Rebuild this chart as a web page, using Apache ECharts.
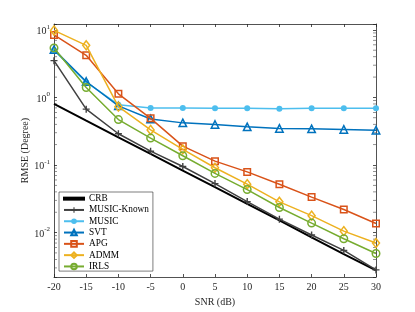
<!DOCTYPE html>
<html><head><meta charset="utf-8">
<script src="https://cdn.jsdelivr.net/npm/echarts@6/dist/echarts.min.js"></script>
<style>html,body{margin:0;padding:0;background:#fff}#c{width:415px;height:312px}</style>
</head><body><div id="c"></div>
<script>
var snr = [-20, -15, -10, -5, 0, 5, 10, 15, 20, 25, 30];
var crb = [0.80, 0.453, 0.257, 0.146, 0.0826, 0.0469, 0.0266, 0.0151, 0.0085, 0.0048, 0.00275];
var musicKnown = [3.5, 0.67, 0.29, 0.16, 0.095, 0.053, 0.0287, 0.0158, 0.0092, 0.00544, 0.0028];
var music = [5.0, 1.68, 0.78, 0.70, 0.70, 0.69, 0.69, 0.68, 0.69, 0.69, 0.69];
var svt = [5.1, 1.72, 0.75, 0.48, 0.42, 0.397, 0.367, 0.348, 0.343, 0.336, 0.328];
var apg = [8.4, 4.2, 1.13, 0.49, 0.19, 0.114, 0.079, 0.052, 0.0335, 0.0219, 0.0136];
var admm = [9.8, 5.9, 0.73, 0.33, 0.17, 0.091, 0.052, 0.0285, 0.0178, 0.0105, 0.0070];
var irls = [5.4, 1.40, 0.47, 0.25, 0.137, 0.075, 0.0433, 0.0235, 0.0138, 0.0081, 0.0049];
var names = ['CRB', 'MUSIC-Known', 'MUSIC', 'SVT', 'APG', 'ADMM', 'IRLS'];
var xTicks = [-20, -15, -10, -5, 0, 5, 10, 15, 20, 25, 30];
var yMin = 0.0022, yMax = 12.2;
var minorTickValues = [0.003, 0.004, 0.005, 0.006, 0.007, 0.008, 0.009,
  0.02, 0.03, 0.04, 0.05, 0.06, 0.07, 0.08, 0.09,
  0.2, 0.3, 0.4, 0.5, 0.6, 0.7, 0.8, 0.9,
  2, 3, 4, 5, 6, 7, 8, 9];

function pairs(arr) { return snr.map(function (x, i) { return [x, arr[i]]; }); }

var FONT = 'Liberation Serif';
var AX = '#262626';
var plus = 'path://M4,0H6V4H10V6H6V10H4V6H0V4H4Z';

function lineSeries(name, data, color, opt) {
  var s = {
    name: name, type: 'line', data: pairs(data), color: color,
    lineStyle: { color: color, width: 1.5 },
    symbol: opt.symbol || 'none', symbolSize: opt.size || 7,
    showSymbol: !!opt.symbol,
    itemStyle: { color: opt.filled ? color : 'rgba(255,255,255,0)', borderColor: color, borderWidth: opt.filled ? 0 : 1.5 },
    emphasis: { disabled: true }, animation: false, z: opt.z || 2
  };
  if (opt.width) s.lineStyle.width = opt.width;
  return s;
}

var series = [
  lineSeries('CRB', crb, '#000000', { width: 2, z: 2 }),
  lineSeries('MUSIC-Known', musicKnown, '#404040', { symbol: plus, size: 7, filled: true, z: 3 }),
  lineSeries('MUSIC', music, '#4DBEEE', { symbol: 'circle', size: 6, filled: true, z: 4 }),
  lineSeries('SVT', svt, '#0072BD', { symbol: 'triangle', size: 7.5, z: 5 }),
  lineSeries('APG', apg, '#D95319', { symbol: 'rect', size: 6.5, z: 6 }),
  lineSeries('ADMM', admm, '#EDB120', { symbol: 'diamond', size: [7, 9], z: 7 }),
  lineSeries('IRLS', irls, '#77AC30', { symbol: 'circle', size: 7.5, z: 8 })
];
series.push({
  name: 'minorL', type: 'scatter', silent: true, animation: false, clip: false,
  data: minorTickValues.map(function (v) { return [xTicks[0], v]; }),
  symbol: 'rect', symbolSize: [3, 0.8], symbolOffset: [1.5, 0], itemStyle: { color: '#555' }, z: 1
});
series.push({
  name: 'minorR', type: 'scatter', silent: true, animation: false, clip: false,
  data: minorTickValues.map(function (v) { return [xTicks[xTicks.length - 1], v]; }),
  symbol: 'rect', symbolSize: [3, 0.8], symbolOffset: [-1.5, 0], itemStyle: { color: '#555' }, z: 1
});

function logLabel(v) {
  var e = Math.round(Math.log10(v));
  if (Math.abs(Math.log10(v) - e) > 1e-6) return '';
  return '{b|10}{s|' + e + '}';
}

var legendData = names.map(function (n) {
  return n === 'CRB' ? { name: n, icon: 'path://M0,0H20V2H0Z', itemStyle: { color: '#000' } } : { name: n };
});

var chart = echarts.init(document.getElementById('c'), null, { renderer: 'canvas' });
chart.setOption({
  backgroundColor: '#fff',
  animation: false,
  grid: { left: 54, right: 39, top: 24, bottom: 35, containLabel: false },
  legend: {
    data: legendData, orient: 'vertical', left: 59, top: 192,
    itemWidth: 20, itemHeight: 7, itemGap: 2,
    padding: [2, 4, 0, 4], symbolKeepAspect: true,
    borderColor: AX, borderWidth: 0.6, backgroundColor: '#fff',
    textStyle: { fontFamily: FONT, fontSize: 9.3, color: '#000', lineHeight: 9.3 },
    selectedMode: false
  },
  xAxis: [{
    type: 'value', min: -20, max: 30, interval: 5,
    name: 'SNR (dB)', nameLocation: 'middle', nameGap: 20, nameMoveOverlap: false,
    nameTextStyle: { fontFamily: FONT, fontSize: 10, color: '#262626', verticalAlign: 'top' },
    axisLine: { onZero: false, lineStyle: { color: AX, width: 0.8 } },
    axisTick: { inside: true, length: 3, lineStyle: { color: AX, width: 0.8 } },
    axisLabel: { fontFamily: FONT, fontSize: 10, color: '#262626', margin: 5 },
    splitLine: { show: false }
  }, {
    type: 'value', min: -20, max: 30, interval: 5, position: 'top',
    axisLine: { onZero: false, lineStyle: { color: AX, width: 0.8 } },
    axisTick: { inside: true, length: 3, lineStyle: { color: AX, width: 0.8 } },
    axisLabel: { show: false }, splitLine: { show: false }
  }],
  yAxis: [{
    type: 'log', logBase: 10, min: yMin, max: yMax,
    name: 'RMSE (Degree)', nameLocation: 'middle', nameGap: 24, nameRotate: 90, nameMoveOverlap: false,
    nameTextStyle: { fontFamily: FONT, fontSize: 10, color: '#262626' },
    axisLine: { onZero: false, lineStyle: { color: AX, width: 0.8 } },
    axisTick: { inside: true, length: 3, lineStyle: { color: AX, width: 0.8 } },
    axisLabel: {
      formatter: logLabel, margin: 4, showMinLabel: true, showMaxLabel: true,
      rich: {
        b: { fontFamily: FONT, fontSize: 10, color: '#262626', verticalAlign: 'bottom', padding: [0, 0, 0, 0] },
        s: { fontFamily: FONT, fontSize: 7, color: '#262626', verticalAlign: 'bottom', padding: [0, 0, 6, 0] }
      }
    },
    splitLine: { show: false }, minorTick: { show: false }
  }, {
    type: 'log', logBase: 10, min: yMin, max: yMax, position: 'right',
    axisLine: { onZero: false, lineStyle: { color: AX, width: 0.8 } },
    axisTick: { inside: true, length: 3, lineStyle: { color: AX, width: 0.8 } },
    axisLabel: { show: false }, splitLine: { show: false }
  }],
  series: series
});
</script></body></html>
